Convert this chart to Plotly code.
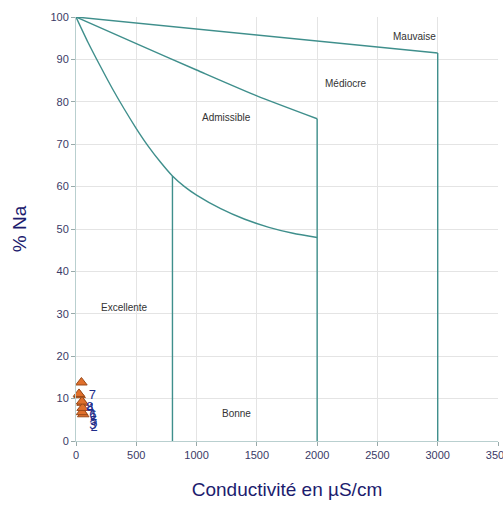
import plotly.graph_objects as go

# Zone boundaries of the conductivity / %Na diagram
mauvaise_x = [0, 3000]
mauvaise_y = [100, 91.5]

mediocre_x = [0, 500, 1000, 1500, 2000]
mediocre_y = [100, 93.7, 87.5, 81.4, 76]

admissible_x = [0, 100, 200, 300, 400, 500, 600, 700, 800,
                900, 1000, 1200, 1400, 1600, 1800, 2000]
admissible_y = [100, 94.0, 88.5, 83.2, 78.3, 73.7, 69.5, 65.8, 62.5,
                60.0, 58.0, 54.8, 52.3, 50.4, 49.0, 48.0]

# Vertical limits: conductivity value and top of each limit
limit_x = [800, 2000, 3000]
limit_top = [62.5, 76, 91.5]

# Zone names and where they sit
zone_names = ["Mauvaise", "Médiocre", "Admissible", "Excellente", "Bonne"]
zone_x = [2810, 2240, 1250, 400, 1330]
zone_y = [95.5, 84.4, 76.4, 31.4, 6.4]

# Samples
sample_ids = ["1", "2", "3", "4", "5", "6", "7", "8"]
sample_cond = [55, 60, 50, 30, 55, 50, 45, 25]
sample_na = [9.0, 6.3, 6.8, 10.8, 7.8, 9.3, 13.8, 11.1]

line_color = "#3f8f8c"
fig = go.Figure()
for xs, ys in [(mauvaise_x, mauvaise_y), (mediocre_x, mediocre_y),
               (admissible_x, admissible_y)]:
    fig.add_trace(go.Scatter(x=xs, y=ys, mode="lines",
                             line=dict(color=line_color, width=1.4, shape="spline", smoothing=0.6),
                             hoverinfo="skip", showlegend=False))
for lx, top in zip(limit_x, limit_top):
    fig.add_trace(go.Scatter(x=[lx, lx], y=[top, 0], mode="lines",
                             line=dict(color=line_color, width=1.4),
                             hoverinfo="skip", showlegend=False))

fig.add_trace(go.Scatter(
    x=sample_cond, y=sample_na, mode="markers+text",
    text=sample_ids, textposition="bottom right",
    textfont=dict(family="Liberation Sans, Arial", size=13, color="#1f2d8a"),
    marker=dict(symbol="triangle-up", size=10, color="#e0702c",
                line=dict(color="#9a4a1a", width=1)),
    showlegend=False, cliponaxis=False))

for name, x, y in zip(zone_names, zone_x, zone_y):
    fig.add_annotation(x=x, y=y, text=name, showarrow=False,
                       font=dict(family="Liberation Sans, Arial", size=10, color="#333333"))

tick_font = dict(family="Liberation Sans, Arial", size=11, color="#3a3a66")
title_font = dict(family="Liberation Sans, Arial", size=19, color="#1c1c6e")

fig.update_layout(
    width=503, height=505,
    margin=dict(l=76, r=5, t=17, b=64),
    paper_bgcolor="white", plot_bgcolor="white",
    xaxis=dict(range=[0, 3500], tickvals=[0, 500, 1000, 1500, 2000, 2500, 3000, 3500],
               showgrid=True, gridcolor="#e4e4e4", gridwidth=1,
               zeroline=False, showline=True, linecolor="#b9cfcf", linewidth=1,
               ticks="outside", ticklen=4, tickcolor="#9aa",
               tickfont=tick_font, ticklabeloverflow="allow", automargin=False,
               title=dict(text="Conductivité en µS/cm", font=title_font, standoff=22)),
    yaxis=dict(range=[0, 100], tickvals=list(range(0, 101, 10)),
               showgrid=True, gridcolor="#e4e4e4", gridwidth=1,
               zeroline=False, showline=True, linecolor="#b9cfcf", linewidth=1,
               ticks="outside", ticklen=4, tickcolor="#9aa",
               tickfont=tick_font,
               title=dict(text="% Na", font=title_font, standoff=18)),
)

fig.write_html("out.html")
